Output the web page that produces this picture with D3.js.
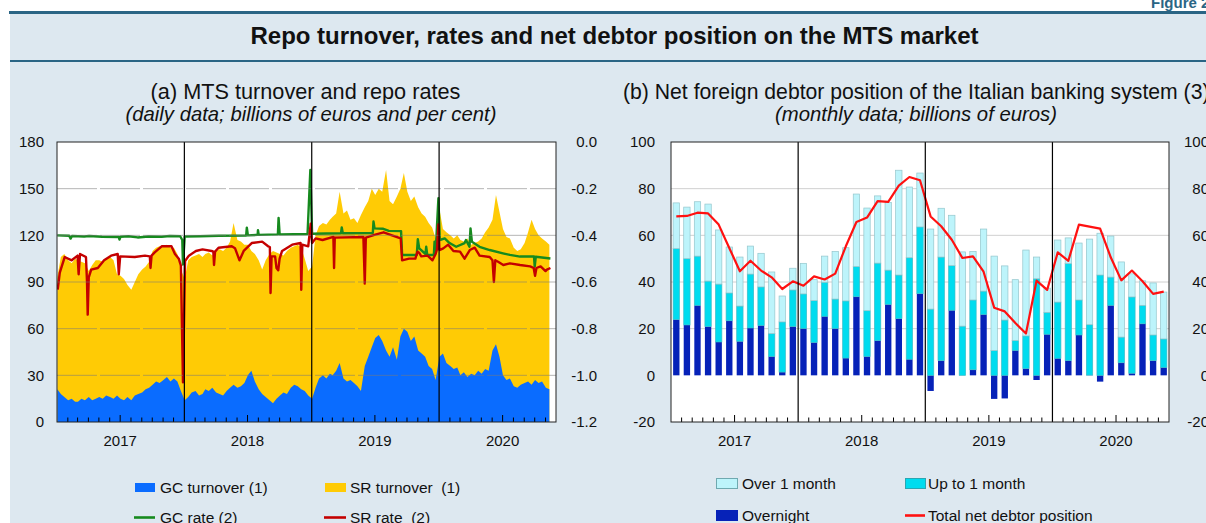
<!DOCTYPE html>
<html><head><meta charset="utf-8">
<script src="https://cdn.jsdelivr.net/npm/d3@7"></script>
<style>
html,body{margin:0;padding:0;background:#fff;overflow:hidden}
svg{display:block;font-family:"Liberation Sans",Arial,Helvetica,sans-serif}
.pre{white-space:pre}
</style></head><body>
<svg id="c" width="1206" height="523"></svg>
<script>
// ---------------- DATA ----------------
// (a) daily turnover, sampled on days 2, 12, 22 of each month, Jan 2017 - Nov 2020 (billions of euros)
const turnoverDays = [2, 12, 22];
const gcTurnover = [
 21,18,16, 14,15,13, 13,15,14, 16,14,15, 16,15,17, 16,15,17, 15,14,16, 14,17,18, 19,21,22, 24,26,25, 27,29,26, 28,26,20,
 14,16,19, 20,17,18, 21,20,22, 19,18,17, 20,22,24, 22,23,25, 30,33,26, 21,18,16, 14,12,15, 17,19,18, 22,24,23, 21,20,17,
 15,22,28, 30,28,31, 30,33,38, 28,26,27, 25,23,20, 36,42,48, 54,56,52, 46,42,48, 40,55,60, 58,52,55, 46,44,42, 36,34,27,
 42,44,38, 36,34,35, 30,32,29, 31,30,33, 31,34,33, 46,50,42, 30,27,28, 23,22,24, 25,26,24, 27,25,26, 22,21
];
const srTurnover = [
 72,88,92, 90,87,92, 91,88,88, 81,87,89, 88,88,88, 90,89,78, 79,78,72, 71,73,77, 79,79,81, 86,86,88, 86,85,86, 84,82,78,
 78,88,87, 87,91,88, 87,89,85, 91,93,93, 92,94,104, 95,93,89, 84,77,82, 83,80,88, 94,98,94, 91,88,92, 90,89,91, 91,85,80,
 85,98,98, 98,99,99, 102,101,110, 106,110,103, 106,105,113, 102,100,102, 92,94,96, 116,100,92, 105,95,100, 90,90,90, 92,90,90, 92,91,91,
 95,80,84, 84,84,85, 87,84,89, 83,85,83, 87,88,92, 84,96,93, 94,92,90, 89,88,87, 90,96,106, 97,95,92, 94,93
];
// repo rates (per cent)
const gcRate = [
 ["2017-01-02",-0.400],["2017-02-05",-0.402],["2017-02-09",-0.414],["2017-02-13",-0.403],["2017-03-20",-0.405],
 ["2017-04-03",-0.403],["2017-05-10",-0.406],["2017-06-27",-0.407],["2017-06-29",-0.418],["2017-07-02",-0.406],
 ["2017-07-25",-0.404],["2017-08-20",-0.409],["2017-09-20",-0.405],["2017-10-28",-0.406],["2017-11-20",-0.403],
 ["2017-12-20",-0.404],["2017-12-26",-0.420],["2017-12-28",-0.525],["2018-01-02",-0.405],["2018-02-15",-0.404],
 ["2018-04-10",-0.402],["2018-06-27",-0.401],["2018-06-29",-0.367],["2018-07-02",-0.400],["2018-07-30",-0.398],
 ["2018-07-31",-0.378],["2018-08-02",-0.398],["2018-09-26",-0.396],["2018-09-28",-0.325],["2018-10-01",-0.396],
 ["2018-12-20",-0.394],["2018-12-28",-0.120],["2019-01-02",-0.393],["2019-03-26",-0.391],["2019-03-28",-0.366],
 ["2019-03-31",-0.391],["2019-06-25",-0.390],["2019-06-27",-0.341],["2019-06-30",-0.370],["2019-07-25",-0.372],
 ["2019-08-10",-0.381],["2019-09-14",-0.382],["2019-09-17",-0.484],["2019-10-29",-0.484],["2019-11-01",-0.417],
 ["2019-11-05",-0.456],["2019-11-23",-0.480],["2019-11-25",-0.449],["2019-11-28",-0.484],["2019-12-17",-0.484],
 ["2019-12-19",-0.427],["2019-12-22",-0.475],["2019-12-30",-0.241],["2020-01-03",-0.420],["2020-01-17",-0.413],
 ["2020-01-31",-0.433],["2020-02-19",-0.449],["2020-03-14",-0.433],["2020-03-18",-0.420],["2020-03-28",-0.449],
 ["2020-03-31",-0.370],["2020-04-04",-0.427],["2020-04-26",-0.449],["2020-05-25",-0.463],["2020-07-02",-0.477],
 ["2020-07-22",-0.484],["2020-08-20",-0.491],["2020-09-29",-0.491],["2020-10-01",-0.534],["2020-10-04",-0.492],
 ["2020-11-15",-0.499]
];
const srRate = [
 ["2017-01-03",-0.633],["2017-01-09",-0.560],["2017-01-23",-0.493],["2017-02-12",-0.507],["2017-03-01",-0.487],
 ["2017-03-04",-0.567],["2017-03-08",-0.480],["2017-03-25",-0.493],["2017-03-28",-0.600],["2017-03-30",-0.740],
 ["2017-04-02",-0.580],["2017-04-09",-0.547],["2017-04-28",-0.540],["2017-05-16",-0.507],["2017-06-05",-0.487],
 ["2017-06-24",-0.480],["2017-06-27",-0.567],["2017-07-01",-0.490],["2017-08-12",-0.493],["2017-09-10",-0.487],
 ["2017-09-24",-0.490],["2017-09-26",-0.540],["2017-09-29",-0.487],["2017-10-08",-0.473],["2017-10-28",-0.447],
 ["2017-11-25",-0.447],["2017-12-05",-0.480],["2017-12-16",-0.500],["2017-12-22",-0.530],["2017-12-28",-1.030],
 ["2018-01-03",-0.510],["2018-01-14",-0.487],["2018-02-03",-0.467],["2018-02-22",-0.460],["2018-03-20",-0.467],
 ["2018-03-25",-0.470],["2018-03-27",-0.527],["2018-03-30",-0.470],["2018-04-09",-0.453],["2018-05-17",-0.447],
 ["2018-05-26",-0.455],["2018-06-08",-0.507],["2018-06-20",-0.467],["2018-07-13",-0.433],["2018-08-12",-0.427],
 ["2018-08-29",-0.447],["2018-09-03",-0.450],["2018-09-05",-0.647],["2018-09-08",-0.490],["2018-09-18",-0.490],
 ["2018-09-22",-0.540],["2018-09-27",-0.550],["2018-10-01",-0.500],["2018-10-08",-0.467],["2018-11-06",-0.440],
 ["2018-11-30",-0.433],["2018-12-02",-0.633],["2018-12-05",-0.440],["2018-12-22",-0.447],["2018-12-29",-0.350],
 ["2019-01-02",-0.433],["2019-01-12",-0.413],["2019-02-01",-0.420],["2019-03-04",-0.407],["2019-03-06",-0.540],
 ["2019-03-08",-0.410],["2019-05-29",-0.407],["2019-06-02",-0.607],["2019-06-05",-0.410],["2019-07-02",-0.397],
 ["2019-07-26",-0.387],["2019-08-19",-0.400],["2019-09-13",-0.413],["2019-09-17",-0.507],["2019-10-07",-0.500],
 ["2019-10-25",-0.500],["2019-10-31",-0.470],["2019-11-05",-0.475],["2019-11-11",-0.490],["2019-11-29",-0.487],
 ["2019-12-13",-0.507],["2019-12-22",-0.480],["2019-12-26",-0.460],["2019-12-30",-0.353],["2020-01-02",-0.463],
 ["2020-01-13",-0.456],["2020-01-27",-0.440],["2020-02-11",-0.467],["2020-03-01",-0.470],["2020-03-14",-0.500],
 ["2020-03-29",-0.463],["2020-04-12",-0.453],["2020-04-26",-0.487],["2020-05-25",-0.493],["2020-06-02",-0.507],
 ["2020-06-06",-0.600],["2020-06-10",-0.507],["2020-06-18",-0.513],["2020-07-03",-0.527],["2020-07-22",-0.520],
 ["2020-08-20",-0.527],["2020-09-18",-0.533],["2020-09-28",-0.540],["2020-10-02",-0.573],["2020-10-06",-0.540],
 ["2020-10-18",-0.533],["2020-11-01",-0.553],["2020-11-05",-0.547],["2020-11-15",-0.540]
];
const leftTicks = [0, 30, 60, 90, 120, 150, 180];
const rateTicks = [-1.2, -1.0, -0.8, -0.6, -0.4, -0.2, 0.0];
const yearLabels = ["2017", "2018", "2019", "2020"];

// (b) monthly data, Jan 2017 - Nov 2020 (billions of euros)
const overnight = [
 23.9,21.6,30.0,20.9,14.3,23.4,14.6,20.3,21.4,8.1,1.4,20.9,
 20.1,14.1,25.3,20.1,7.4,33.7,8.1,14.9,30.4,24.3,6.9,35.0,
 -6.7,6.3,27.9,0.0,2.4,26.1,-10.1,-9.9,10.7,2.9,-2.0,17.6,
 7.3,6.3,17.3,0.1,-2.7,30.0,5.4,0.9,22.1,6.3,3.4
];
const upTo1m = [
 30.4,28.4,21.1,19.5,24.8,11.9,15.1,23.1,16.5,9.8,21.5,15.7,
 14.8,17.9,14.6,12.6,24.5,12.9,19.6,33.2,14.7,18.7,43.5,28.6,
 28.4,44.4,19.1,21.1,29.9,10.0,10.6,23.7,4.2,14.0,41.4,9.4,
 24.1,41.6,15.0,21.6,43.0,12.1,11.0,32.7,7.9,11.0,12.2
];
const over1m = [
 19.6,22.1,23.3,33.0,23.2,19.7,21.0,12.0,14.4,26.4,11.1,9.3,
 13.1,9.0,11.2,20.4,22.8,31.1,44.0,28.8,29.0,44.9,30.3,23.1,
 34.3,20.9,21.6,31.8,20.8,26.6,40.5,23.2,26.1,36.8,9.3,10.4,
 26.6,11.0,24.4,36.7,17.9,17.6,32.2,9.9,10.5,22.3,20.1
];
const netDebtor = [
 68.1,68.3,69.7,69.4,64.6,54.6,44.6,49.1,44.9,42.0,37.0,40.3,
 38.4,42.4,41.1,43.6,55.3,65.7,67.6,74.7,74.3,81.3,85.0,83.6,
 68.1,63.9,58.1,50.3,51.0,44.4,29.0,27.4,22.4,17.9,40.6,36.6,
 52.7,49.1,64.6,63.7,62.9,50.6,40.7,44.9,40.3,34.9,35.9
];
const rightTicks = [-20, 0, 20, 40, 60, 80, 100];

// ---------------- DRAW ----------------
const svg = d3.select("#c");
const W = 1206, H = 523;
const FONT = "Liberation Sans, Arial, sans-serif";
const parse = d3.timeParse("%Y-%m-%d");

svg.append("rect").attr("x", 0).attr("y", 0).attr("width", W).attr("height", H).attr("fill", "#fff");
svg.append("rect").attr("x", 10).attr("y", 13).attr("width", W - 10).attr("height", H - 13).attr("fill", "#dde8f0");
svg.append("line").attr("x1", 9).attr("x2", W).attr("y1", 12.5).attr("y2", 12.5).attr("stroke", "#2a6585").attr("stroke-width", 3);
svg.append("line").attr("x1", 10).attr("x2", W).attr("y1", 61).attr("y2", 61).attr("stroke", "#2a6585").attr("stroke-width", 2);
svg.append("text").attr("x", 1151).attr("y", 8).attr("font-size", 15).attr("font-weight", "bold").attr("fill", "#2a6585").text("Figure 2.5");
svg.append("text").attr("x", 614.5).attr("y", 44).attr("text-anchor", "middle").attr("font-size", 24).attr("font-weight", "bold").attr("fill", "#111")
  .text("Repo turnover, rates and net debtor position on the MTS market");

// subtitles
svg.append("text").attr("x", 305.5).attr("y", 99).attr("text-anchor", "middle").attr("font-size", 21.7).attr("fill", "#111").text("(a) MTS turnover and repo rates");
svg.append("text").attr("x", 311).attr("y", 121).attr("text-anchor", "middle").attr("font-size", 20.3).attr("font-style", "italic").attr("fill", "#111").text("(daily data; billions of euros and per cent)");
svg.append("text").attr("x", 623).attr("y", 99).attr("font-size", 21.2).attr("fill", "#111").text("(b) Net foreign debtor position of the Italian banking system (3)");
svg.append("text").attr("x", 916).attr("y", 121).attr("text-anchor", "middle").attr("font-size", 20.3).attr("font-style", "italic").attr("fill", "#111").text("(monthly data; billions of euros)");

// ---------- chart (a) ----------
const A = {x0: 57, x1: 556, y0: 142, y1: 422};
const xA = d3.scaleTime().domain([new Date(2017, 0, 1), new Date(2020, 11, 1)]).range([A.x0, A.x1]);
const yA = d3.scaleLinear().domain([0, 180]).range([A.y1, A.y0]);
const yRate = d3.scaleLinear().domain([-1.2, 0]).range([A.y1, A.y0]);

const gA = svg.append("g");
gA.append("rect").attr("x", A.x0).attr("y", A.y0).attr("width", A.x1 - A.x0).attr("height", A.y1 - A.y0).attr("fill", "#fff");
svg.append("clipPath").attr("id", "clipA").append("rect").attr("x", A.x0).attr("y", A.y0).attr("width", A.x1 - A.x0).attr("height", A.y1 - A.y0);

const turnover = gcTurnover.map((g, i) => ({
  date: new Date(2017, Math.floor(i / 3), turnoverDays[i % 3]),
  gc: g, sr: srTurnover[i]
}));
const stackA = d3.stack().keys(["gc", "sr"])(turnover);
const areaA = d3.area().x(d => xA(d.data.date)).y0(d => yA(d[0])).y1(d => yA(d[1]));
const gClip = gA.append("g").attr("clip-path", "url(#clipA)");
// SR turnover drawn from 0 to total, GC on top of it
gClip.append("path").datum(stackA[1]).attr("fill", "#ffcb05").attr("d", d3.area().x(d => xA(d.data.date)).y0(yA(0)).y1(d => yA(d[1])));
gClip.append("path").datum(stackA[0]).attr("fill", "#0a6cff").attr("d", areaA);

// gridlines over areas
gA.selectAll(".gridA").data(leftTicks.filter(v => v > 0 && v < 180)).join("line")
  .attr("x1", A.x0).attr("x2", A.x1).attr("y1", d => yA(d)).attr("y2", d => yA(d))
  .attr("stroke", "#7a7a7a").attr("stroke-opacity", 0.55).attr("stroke-width", 1).attr("stroke-dasharray", "40 3");

// year dividers
const yearStarts = [2018, 2019, 2020].map(y => new Date(y, 0, 1));
gA.selectAll(".ydA").data(yearStarts).join("line")
  .attr("x1", d => xA(d)).attr("x2", d => xA(d)).attr("y1", A.y0).attr("y2", A.y1)
  .attr("stroke", "#000").attr("stroke-width", 1.2);

// rate lines
const rateLine = d3.line().x(d => xA(parse(d[0]))).y(d => yRate(d[1]));
gClip.append("path").datum(gcRate).attr("fill", "none").attr("stroke", "#168a1e").attr("stroke-width", 2.4).attr("stroke-linejoin", "round").attr("d", rateLine);
gClip.append("path").datum(srRate).attr("fill", "none").attr("stroke", "#c40000").attr("stroke-width", 2.4).attr("stroke-linejoin", "round").attr("d", rateLine);

// month ticks
const monthsA = d3.timeMonth.range(new Date(2017, 1, 1), new Date(2020, 11, 1)).filter(d => d.getMonth() !== 0);
gA.selectAll(".mtA").data(monthsA).join("line")
  .attr("x1", d => xA(d)).attr("x2", d => xA(d)).attr("y1", A.y1).attr("y2", d => A.y1 - (d.getMonth() === 6 ? 7 : 4.5))
  .attr("stroke", "#000").attr("stroke-width", 1);

gA.append("rect").attr("x", A.x0).attr("y", A.y0).attr("width", A.x1 - A.x0).attr("height", A.y1 - A.y0)
  .attr("fill", "none").attr("stroke", "#222").attr("stroke-width", 1);

// axes
const axL = gA.append("g").attr("transform", `translate(${A.x0},0)`)
  .call(d3.axisLeft(yA).tickValues(leftTicks).tickSize(0).tickPadding(13).tickFormat(d => String(d)));
const axR = gA.append("g").attr("transform", `translate(${A.x1},0)`)
  .call(d3.axisRight(yRate).tickValues(rateTicks).tickSize(0).tickPadding(41).tickFormat(d => d.toFixed(1)));
axR.selectAll("text").attr("text-anchor", "end");
[axL, axR].forEach(ax => {
  ax.select(".domain").remove();
  ax.selectAll("text").attr("font-size", 15).attr("font-family", FONT).attr("fill", "#111");
});
gA.selectAll(".yrA").data(yearLabels).join("text")
  .attr("x", d => xA(new Date(+d, 6, 1))).attr("y", 446).attr("text-anchor", "middle")
  .attr("font-size", 15).attr("fill", "#111").text(d => d);

// ---------- chart (b) ----------
const B = {x0: 671, x1: 1169, y0: 142, y1: 422};
const monthsB = d3.range(overnight.length).map(i => d3.timeFormat("%Y-%m")(new Date(2017, i, 1)));
const xB = d3.scaleBand().domain(monthsB).range([B.x0, B.x1]).paddingInner(0.4).paddingOuter(0.2);
const yB = d3.scaleLinear().domain([-20, 100]).range([B.y1, B.y0]);
const gB = svg.append("g");
gB.append("rect").attr("x", B.x0).attr("y", B.y0).attr("width", B.x1 - B.x0).attr("height", B.y1 - B.y0).attr("fill", "#fff");
gB.selectAll(".gridB").data([20, 40, 60, 80]).join("line")
  .attr("x1", B.x0).attr("x2", B.x1).attr("y1", d => yB(d)).attr("y2", d => yB(d))
  .attr("stroke", "#d0d0d0").attr("stroke-width", 1);

const rowsB = monthsB.map((m, i) => ({m, overnight: overnight[i], upTo1m: upTo1m[i], over1m: over1m[i]}));
const stackB = d3.stack().keys(["overnight", "upTo1m", "over1m"]).offset(d3.stackOffsetDiverging)(rowsB);
const fillsB = {overnight: "#0622b8", upTo1m: "#00dcef", over1m: "#bdf4fb"};
const strokesB = {overnight: "none", upTo1m: "#3bbcc8", over1m: "#94c6cc"};
stackB.forEach(s => {
  gB.append("g").selectAll("rect").data(s).join("rect")
    .attr("x", d => xB(d.data.m)).attr("width", xB.bandwidth())
    .attr("y", d => yB(Math.max(d[0], d[1]))).attr("height", d => Math.abs(yB(d[0]) - yB(d[1])))
    .attr("fill", fillsB[s.key]).attr("stroke", strokesB[s.key]).attr("stroke-width", 0.7);
});
const lineB = d3.line().x((d, i) => xB(monthsB[i]) + xB.bandwidth() / 2).y(d => yB(d));
gB.append("path").datum(netDebtor).attr("fill", "none").attr("stroke", "#ff1111").attr("stroke-width", 2.2).attr("stroke-linejoin", "round").attr("d", lineB);

const gapB = (xB.step() - xB.bandwidth()) / 2;
const boundaryB = m => xB(m) - gapB;
gB.selectAll(".ydB").data(["2018-01", "2019-01", "2020-01"]).join("line")
  .attr("x1", d => boundaryB(d)).attr("x2", d => boundaryB(d)).attr("y1", B.y0).attr("y2", B.y1)
  .attr("stroke", "#000").attr("stroke-width", 1.2);
gB.selectAll(".mtB").data(monthsB.filter(m => !m.endsWith("-01"))).join("line")
  .attr("x1", d => boundaryB(d)).attr("x2", d => boundaryB(d)).attr("y1", B.y1).attr("y2", d => B.y1 - (d.endsWith("-07") ? 7 : 4.5))
  .attr("stroke", "#000").attr("stroke-width", 1);
gB.append("rect").attr("x", B.x0).attr("y", B.y0).attr("width", B.x1 - B.x0).attr("height", B.y1 - B.y0)
  .attr("fill", "none").attr("stroke", "#222").attr("stroke-width", 1);
const bxL = gB.append("g").attr("transform", `translate(${B.x0},0)`)
  .call(d3.axisLeft(yB).tickValues(rightTicks).tickSize(0).tickPadding(16).tickFormat(d => String(d)));
const bxR = gB.append("g").attr("transform", `translate(${B.x1},0)`)
  .call(d3.axisRight(yB).tickValues(rightTicks).tickSize(0).tickPadding(40).tickFormat(d => String(d)));
bxR.selectAll("text").attr("text-anchor", "end");
[bxL, bxR].forEach(ax => {
  ax.select(".domain").remove();
  ax.selectAll("text").attr("font-size", 15).attr("font-family", FONT).attr("fill", "#111");
});
const stepB = xB.step();
gB.selectAll(".yrB").data(yearLabels).join("text")
  .attr("x", d => boundaryB(d + "-01") + stepB * 6).attr("y", 446).attr("text-anchor", "middle")
  .attr("font-size", 15).attr("fill", "#111").text(d => d);

// ---------- legends ----------
const lg = svg.append("g").attr("font-size", 15.5).attr("fill", "#111");
function swatch(x, y, w, h, fill, stroke) {
  lg.append("rect").attr("x", x).attr("y", y).attr("width", w).attr("height", h).attr("fill", fill).attr("stroke", stroke || "none").attr("stroke-width", 1);
}
function lswatch(x, y, w, color) {
  lg.append("line").attr("x1", x).attr("x2", x + w).attr("y1", y).attr("y2", y).attr("stroke", color).attr("stroke-width", 2.6);
}
function label(x, y, t) {
  lg.append("text").attr("class", "pre").attr("x", x).attr("y", y).text(t);
}
swatch(135, 483, 20, 9, "#0a6cff");
label(160, 493, "GC turnover (1)");
swatch(325, 483, 21, 9, "#ffcb05");
label(350, 493, "SR turnover  (1)");
lswatch(134, 517.5, 21, "#168a1e");
label(160, 523, "GC rate (2)");
lswatch(324, 517.5, 22, "#c40000");
label(350, 523, "SR rate  (2)");

swatch(716.5, 478.5, 21, 10, "#bdf4fb", "#6fa9b0");
label(742, 489, "Over 1 month");
swatch(905.5, 478.5, 20, 10, "#00dcef", "#2aa6b3");
label(928, 489, "Up to 1 month");
swatch(716.5, 510.5, 21, 10, "#0622b8", "#0622b8");
label(742, 521, "Overnight");
lswatch(905, 515.5, 20, "#ff1111");
label(928, 521, "Total net debtor position");
</script>
</body></html>
